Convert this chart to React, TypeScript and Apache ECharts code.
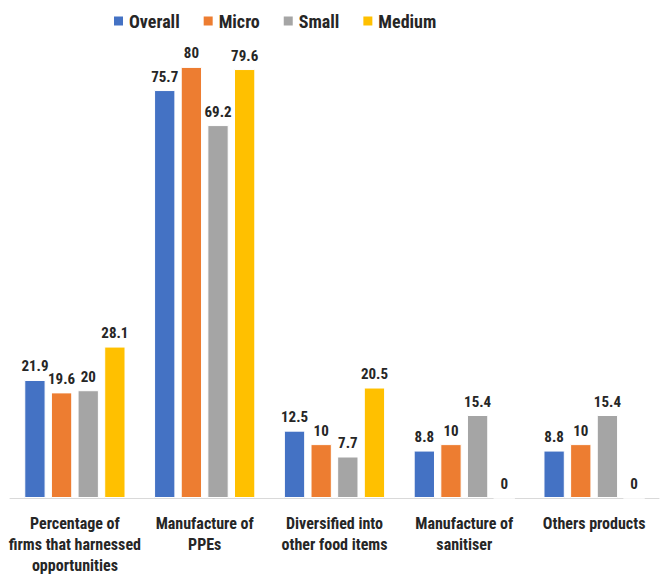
import React, { useEffect, useRef } from "react";
import * as echarts from "echarts";

const categories = [
  "Percentage of\nfirms that harnessed\nopportunities",
  "Manufacture of\nPPEs",
  "Diversified into\nother food items",
  "Manufacture of\nsanitiser",
  "Others products",
];
const seriesNames = ["Overall", "Micro", "Small", "Medium"];
const overall = [21.9, 75.7, 12.5, 8.8, 8.8];
const micro = [19.6, 80, 10, 10, 10];
const small = [20, 69.2, 7.7, 15.4, 15.4];
const medium = [28.1, 79.6, 20.5, 0, 0];
const colors = ["#4472C4", "#ED7D31", "#A5A5A5", "#FFC000"];

const FONT = "'Roboto Condensed', 'DejaVu Sans Condensed', sans-serif";

export default function App() {
  const ref = useRef<HTMLDivElement>(null);
  useEffect(() => {
    document.body.style.margin = "0";
    if (!ref.current) return;
    const chart = echarts.init(ref.current, null, { renderer: "svg" });
    const values = [overall, micro, small, medium];
    chart.setOption({
      animation: false,
      textStyle: { fontFamily: FONT },
      legend: {
        top: 7,
        left: 107,
        itemWidth: 11,
        itemHeight: 11,
        itemGap: 22,
        icon: "rect",
        textStyle: { fontFamily: FONT, fontSize: 18, fontWeight: "bold", color: "#262626" },
        data: seriesNames,
      },
      grid: { left: 10, right: 1, top: 13, bottom: 73, containLabel: false },
      xAxis: {
        type: "category",
        data: categories,
        axisLine: { lineStyle: { color: "#D9D9D9", width: 1 } },
        axisTick: { show: false },
        axisLabel: {
          interval: 0,
          margin: 15,
          fontFamily: FONT,
          fontSize: 16,
          fontWeight: "bold",
          color: "#262626",
          lineHeight: 21,
        },
      },
      yAxis: {
        type: "value",
        min: 0,
        max: 90,
        show: false,
        splitLine: { show: false },
      },
      series: seriesNames.map((name, i) => ({
        name,
        type: "bar",
        data: values[i],
        barGap: "25%",
        barCategoryGap: "22%",
        itemStyle: { color: colors[i], borderColor: "#ffffff", borderWidth: 1 },
        label: {
          show: true,
          position: "top",
          distance: 6,
          fontFamily: FONT,
          fontSize: 15,
          fontWeight: "bold",
          color: "#262626",
        },
      })),
    });
    return () => chart.dispose();
  }, []);
  return <div ref={ref} style={{ width: 660, height: 576 }} />;
}
